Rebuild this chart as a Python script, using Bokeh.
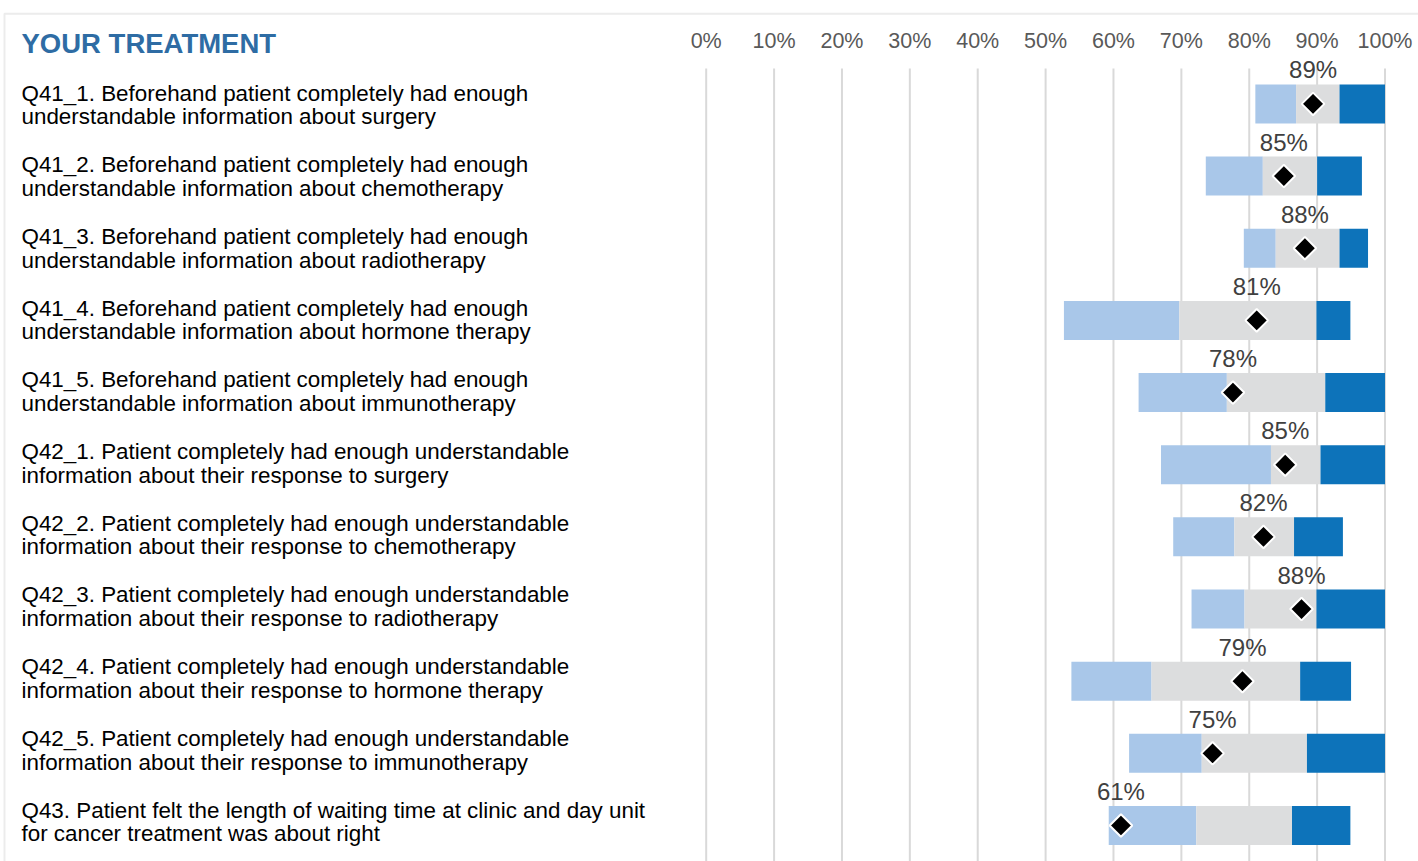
import math
from bokeh.plotting import figure
from bokeh.models import (ColumnDataSource, Range1d, FixedTicker, PrintfTickFormatter,
                          BoxAnnotation)
from bokeh.core.properties import value
from bokeh.embed import file_html
from bokeh.resources import INLINE

# ---------------- data ----------------
questions = [
    "Q41_1. Beforehand patient completely had enough\nunderstandable information about surgery",
    "Q41_2. Beforehand patient completely had enough\nunderstandable information about chemotherapy",
    "Q41_3. Beforehand patient completely had enough\nunderstandable information about radiotherapy",
    "Q41_4. Beforehand patient completely had enough\nunderstandable information about hormone therapy",
    "Q41_5. Beforehand patient completely had enough\nunderstandable information about immunotherapy",
    "Q42_1. Patient completely had enough understandable\ninformation about their response to surgery",
    "Q42_2. Patient completely had enough understandable\ninformation about their response to chemotherapy",
    "Q42_3. Patient completely had enough understandable\ninformation about their response to radiotherapy",
    "Q42_4. Patient completely had enough understandable\ninformation about their response to hormone therapy",
    "Q42_5. Patient completely had enough understandable\ninformation about their response to immunotherapy",
    "Q43. Patient felt the length of waiting time at clinic and day unit\nfor cancer treatment was about right",
]
range_min   = [80.9, 73.6, 79.2, 52.7, 63.7, 67.0, 68.8, 71.5, 53.8, 62.3, 59.3]
lower_band  = [86.9, 82.0, 83.9, 69.7, 76.7, 83.2, 77.8, 79.3, 65.6, 73.0, 72.2]
upper_band  = [93.3, 90.0, 93.3, 89.9, 91.2, 90.5, 86.6, 89.9, 87.5, 88.5, 86.3]
range_max   = [100.0, 96.6, 97.5, 94.9, 100.0, 100.0, 93.8, 100.0, 95.0, 100.0, 94.9]
trust_score = [89.4, 85.1, 88.2, 81.1, 77.6, 85.3, 82.1, 87.7, 79.0, 74.6, 61.1]
tick_values = [0, 10, 20, 30, 40, 50, 60, 70, 80, 90, 100]
section_title = "YOUR TREATMENT"

# ---------------- layout constants (pixels) ----------------
W, H = 1418, 861
ZERO_PX, HUNDRED_PX = 705.7, 1384.5
PPX = (HUNDRED_PX - ZERO_PX) / 100.0
X_START = -ZERO_PX / PPX
X_END = X_START + W / PPX
PPY = 72.16            # pixels per bar row
ROW0_PX = 103.4        # centre of first row
LABEL_PITCH = 71.7     # pixels between question label blocks
Y_TOP = -ROW0_PX / PPY
Y_BOTTOM = Y_TOP + H / PPY


def ypix(py):
    return Y_TOP + py / PPY


LABEL_X = X_START + 21 / PPX
HEADER_Y = ypix(68)

rows = list(range(len(questions)))
src = ColumnDataSource(dict(
    row=rows, q=questions, lo=range_min, b1=lower_band, b2=upper_band, hi=range_max,
    score=trust_score, lab=[f"{round(s)}%" for s in trust_score],
    lx=[LABEL_X] * len(rows),
    ly=[r * LABEL_PITCH / PPY for r in rows],
))

p = figure(width=W, height=H, output_backend="svg", toolbar_location=None,
           x_range=Range1d(X_START, X_END), y_range=Range1d(Y_BOTTOM, Y_TOP),
           x_axis_location="above", y_axis_location=None,
           min_border=0, min_border_left=0, min_border_right=0,
           min_border_top=0, min_border_bottom=0)
p.outline_line_color = None
p.background_fill_color = "white"
p.border_fill_color = "white"
p.xgrid.visible = False
p.ygrid.visible = False

ax = p.xaxis[0]
ax.fixed_location = HEADER_Y
ax.ticker = FixedTicker(ticks=tick_values)
ax.formatter = PrintfTickFormatter(format="%d%%")
ax.axis_line_color = None
ax.major_tick_line_color = None
ax.minor_tick_line_color = None
ax.major_label_text_font = "Liberation Sans"
ax.major_label_text_font_size = "21.5px"
ax.major_label_text_color = "#595959"
ax.major_label_standoff = 10

# vertical grid lines (below the tick labels only)
p.segment(x0=tick_values, x1=tick_values, y0=[HEADER_Y] * len(tick_values),
          y1=[Y_BOTTOM] * len(tick_values), line_color="#D9D9D9", line_width=2)

BH = 39 / PPY
p.hbar(y="row", left="lo", right="b1", height=BH, source=src, fill_color="#A9C7E9", line_color=None)
p.hbar(y="row", left="b1", right="b2", height=BH, source=src, fill_color="#DCDDDE", line_color=None)
p.hbar(y="row", left="b2", right="hi", height=BH, source=src, fill_color="#0D73BA", line_color=None)

p.scatter(x="score", y="row", source=src, marker="square", angle=math.pi / 4, size=16,
          fill_color="black", line_color="white", line_width=2)

p.text(x="score", y="row", text="lab", source=src, y_offset=-34,
       text_align="center", text_baseline="alphabetic",
       text_font=value("Liberation Sans"), text_font_size="24px", text_color="#404040")

p.text(x="lx", y="ly", text="q", source=src, y_offset=1,
       text_align="left", text_baseline="middle", text_line_height=0.95,
       text_font=value("Liberation Sans"), text_font_size="22.4px", text_color="black")

p.text(x=[LABEL_X], y=[ypix(43)], text=[section_title],
       text_align="left", text_baseline="middle",
       text_font=value("Liberation Sans"), text_font_size="27.5px", text_font_style="bold",
       text_color="#2E6CA4")

p.add_layout(BoxAnnotation(left=4, right=W + 20, top=H - 13.3, bottom=-40,
                           left_units="screen", right_units="screen",
                           top_units="screen", bottom_units="screen",
                           fill_alpha=0, line_color="#BFBFBF", line_width=2))

open("out.html", "w").write(file_html(p, INLINE))
